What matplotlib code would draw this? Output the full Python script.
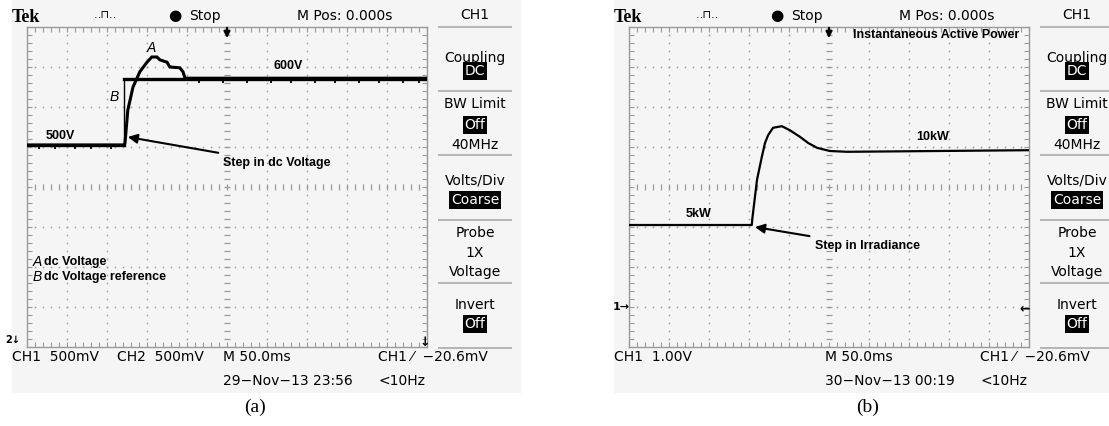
import numpy as np
import matplotlib
matplotlib.use("Agg")
import matplotlib.pyplot as plt

# Oscilloscope captures: (a) dc-link voltage step, (b) active power step.
# Screen units are divisions: 10 across, 8 up.

# (a) dc voltage A and its reference B
a_x = [0, 2.42, 2.45, 2.52, 2.65, 2.75, 2.82, 3.0, 3.12, 3.25, 3.32, 3.5,
       3.57, 3.82, 3.9, 3.95, 10]
a_y = [5.05, 5.05, 5.1, 5.92, 6.5, 6.72, 6.88, 7.12, 7.25, 7.25, 7.18, 7.12,
       7.0, 6.98, 6.88, 6.72, 6.72]
b_x = [0, 2.43, 2.43, 10]
b_y = [5.05, 5.05, 6.7, 6.7]
# small notches seen on the flat parts of trace (a)
notch_x = [0.3, 0.7, 1.2, 1.6, 2.1, 4.3, 4.9, 5.5, 6.1, 6.6, 7.2, 7.7, 8.3,
           8.8, 9.4, 9.8]

# (b) instantaneous active power
p_x = [0, 3.07, 3.08, 3.2, 3.32, 3.4, 3.48, 3.6, 3.82, 4.02, 4.28, 4.48,
       4.7, 5.02, 5.45, 10]
p_y = [3.05, 3.05, 3.18, 4.18, 4.75, 5.1, 5.3, 5.48, 5.52, 5.42, 5.25, 5.1,
       4.98, 4.9, 4.88, 4.92]

menu_items = [("CH1", 15, False), ("Coupling", 58, False), ("DC", 71, True),
              ("BW Limit", 104, False), ("Off", 125, True),
              ("40MHz", 145, False), ("Volts/Div", 180, False),
              ("Coarse", 200, True), ("Probe", 233, False), ("1X", 253, False),
              ("Voltage", 272, False), ("Invert", 305, False),
              ("Off", 324, True)]
menu_lines = [27, 91, 155, 220, 283, 348]

SCOPE = ["Liberation Sans Narrow", "DejaVu Sans"]
GRID = "#9a9a9a"
BG = "#f5f5f5"
W, H = 1109, 426

fig = plt.figure(figsize=(W / 100, H / 100), dpi=100)

# bottom layer: screenshot backgrounds
base = fig.add_axes([0, 0, 1, 1], zorder=-1)
base.set_xlim(0, W)
base.set_ylim(H, 0)
base.axis("off")
for dx in (0, 602):
    base.add_patch(plt.Rectangle((12 + dx, 0), 508, 392, color=BG))

# top layer: all the screen chrome text
bg = fig.add_axes([0, 0, 1, 1], zorder=10)
bg.set_xlim(0, W)
bg.set_ylim(H, 0)
bg.axis("off")
bg.patch.set_visible(False)


def screen(x0):
    ax = fig.add_axes([x0 / W, (H - 347) / H, 400 / W, 320 / H], zorder=0)
    ax.set_xlim(0, 10)
    ax.set_ylim(0, 8)
    ax.set_facecolor(BG)
    xs = np.arange(0, 10.01, 0.2)
    ys = np.arange(0, 8.01, 0.2)
    for gx in range(1, 10):
        if gx == 5:
            ax.plot([5] * len(ys), ys, ls="none", marker="_", ms=5,
                    mew=0.9, color=GRID)
        else:
            ax.plot([gx] * len(ys), ys, ls="none", marker="s", ms=1.1,
                    mew=0, color=GRID)
    for gy in range(1, 8):
        if gy == 4:
            ax.plot(xs, [4] * len(xs), ls="none", marker="|", ms=5,
                    mew=0.9, color=GRID)
        else:
            ax.plot(xs, [gy] * len(xs), ls="none", marker="s", ms=1.1,
                    mew=0, color=GRID)
    ax.set_xticks(xs)
    ax.set_yticks(ys)
    ax.tick_params(direction="in", length=3.5, width=0.8, color=GRID,
                   top=True, right=True, labelbottom=False, labelleft=False)
    for sp in ax.spines.values():
        sp.set_color(GRID)
        sp.set_linewidth(1.0)
    # trigger position arrow at the top centre
    ax.annotate("", xy=(5, 7.72), xytext=(5, 7.98),
                arrowprops=dict(arrowstyle="-|>", color="black", lw=1.6,
                                mutation_scale=9, shrinkA=0, shrinkB=0))
    return ax


def chrome(dx, date, ch_text, right_text_x):
    bg.text(12 + dx, 17, "Tek", family="Liberation Serif", weight="bold",
            fontsize=13, va="center")
    bg.text(105 + dx, 15, "\u2025\u2293\u2025", family=SCOPE, fontsize=8,
            ha="center", va="center")
    bg.text(175 + dx, 16, "\u25cf", family="DejaVu Sans", fontsize=11,
            ha="center", va="center")
    bg.text(189 + dx, 16, "Stop", family=SCOPE, fontsize=10, va="center")
    bg.text(297 + dx, 16, "M Pos: 0.000s", family=SCOPE, fontsize=10,
            va="center")
    for label, y, boxed in menu_items:
        if boxed:
            bg.text(475 + dx, y, label, family=SCOPE, fontsize=10,
                    ha="center", va="center", color="white",
                    bbox=dict(facecolor="black", edgecolor="none", pad=1.2))
        else:
            bg.text(475 + dx, y, label, family=SCOPE, fontsize=10,
                    ha="center", va="center")
    bg.hlines(menu_lines, 438 + dx, 512 + dx, color="#aaaaaa", lw=1.2)
    bg.text(12 + dx, 357, ch_text, family=SCOPE, fontsize=10, va="center")
    bg.text(223 + dx, 357, "M 50.0ms", family=SCOPE, fontsize=10,
            va="center")
    bg.text(right_text_x, 357, "CH1 \u2044  \u221220.6mV", family=SCOPE,
            fontsize=10, va="center")
    bg.text(223 + dx, 381, date, family=SCOPE, fontsize=10, va="center")
    bg.text(right_text_x, 381, "<10Hz", family=SCOPE, fontsize=10,
            va="center")


chrome(0, "29\u2212Nov\u221213 23:56", "CH1  500mV", 378)
bg.text(117, 357, "CH2  500mV", family=SCOPE, fontsize=10, va="center")
chrome(602, "30\u2212Nov\u221213 00:19", "CH1  1.00V", 980)

# ground / trigger-level markers
bg.text(13, 340, "2\u2193", family="DejaVu Sans", weight="bold", fontsize=7,
        ha="center", va="center")
bg.text(425, 342, "\u2193", family="DejaVu Sans", weight="bold", fontsize=9,
        ha="center", va="center")
bg.text(621, 307, "1\u2192", family="DejaVu Sans", weight="bold",
        fontsize=8, ha="center", va="center")
bg.text(1025, 309, "\u2190", family="DejaVu Sans", weight="bold",
        fontsize=9, ha="center", va="center")

bg.text(255, 407, "(a)", family="Liberation Serif", fontsize=14,
        ha="center", va="center")
bg.text(868, 407, "(b)", family="Liberation Serif", fontsize=14,
        ha="center", va="center")

bold = dict(family="Liberation Sans", weight="bold", fontsize=9)
ital = dict(family="Liberation Sans", style="italic", fontsize=10)

# ---- (a) ----
ax1 = screen(27)
ax1.plot(b_x, b_y, color="black", lw=1.0, zorder=3)
ax1.plot(a_x, a_y, color="black", lw=2.2, solid_joinstyle="miter", zorder=3)
ax1.plot(b_x[2:], b_y[2:], color="black", lw=2.4, zorder=3)
ax1.plot(b_x[:2], b_y[:2], color="black", lw=2.4, zorder=3)
notch_y = [5.0 if x < 2.43 else 6.65 for x in notch_x]
ax1.plot(notch_x, notch_y, ls="none", marker="|", ms=3, mew=1.3,
         color="black", zorder=3)
ax1.text(0.83, 5.28, "500V", ha="center", va="center", **bold)
ax1.text(6.52, 7.03, "600V", ha="center", va="center", **bold)
ax1.text(3.12, 7.48, "A", ha="center", va="center", **ital)
ax1.text(2.17, 6.25, "B", ha="center", va="center", **ital)
ax1.annotate("Step in dc Voltage", xy=(2.52, 5.25), xytext=(4.9, 4.6),
             va="center", ha="left",
             arrowprops=dict(arrowstyle="-|>", color="black", lw=1.5,
                             mutation_scale=14, shrinkA=6, shrinkB=0),
             **bold)
ax1.text(0.15, 2.13, "A", va="center", **ital)
ax1.text(0.42, 2.13, "dc Voltage", va="center", **bold)
ax1.text(0.15, 1.75, "B", va="center", **ital)
ax1.text(0.42, 1.75, "dc Voltage reference", va="center", **bold)

# ---- (b) ----
ax2 = screen(629)
ax2.plot(p_x, p_y, color="black", lw=1.6, zorder=3)
ax2.text(7.6, 5.25, "10kW", ha="center", va="center", **bold)
ax2.text(1.75, 3.33, "5kW", ha="center", va="center", **bold)
ax2.text(5.6, 7.8, "Instantaneous Active Power", ha="left", va="center",
         **bold)
ax2.annotate("Step in Irradiance", xy=(3.15, 3.0), xytext=(4.65, 2.53),
             va="center", ha="left",
             arrowprops=dict(arrowstyle="-|>", color="black", lw=1.5,
                             mutation_scale=14, shrinkA=4, shrinkB=0),
             **bold)

fig.savefig("out.png", dpi=100)
